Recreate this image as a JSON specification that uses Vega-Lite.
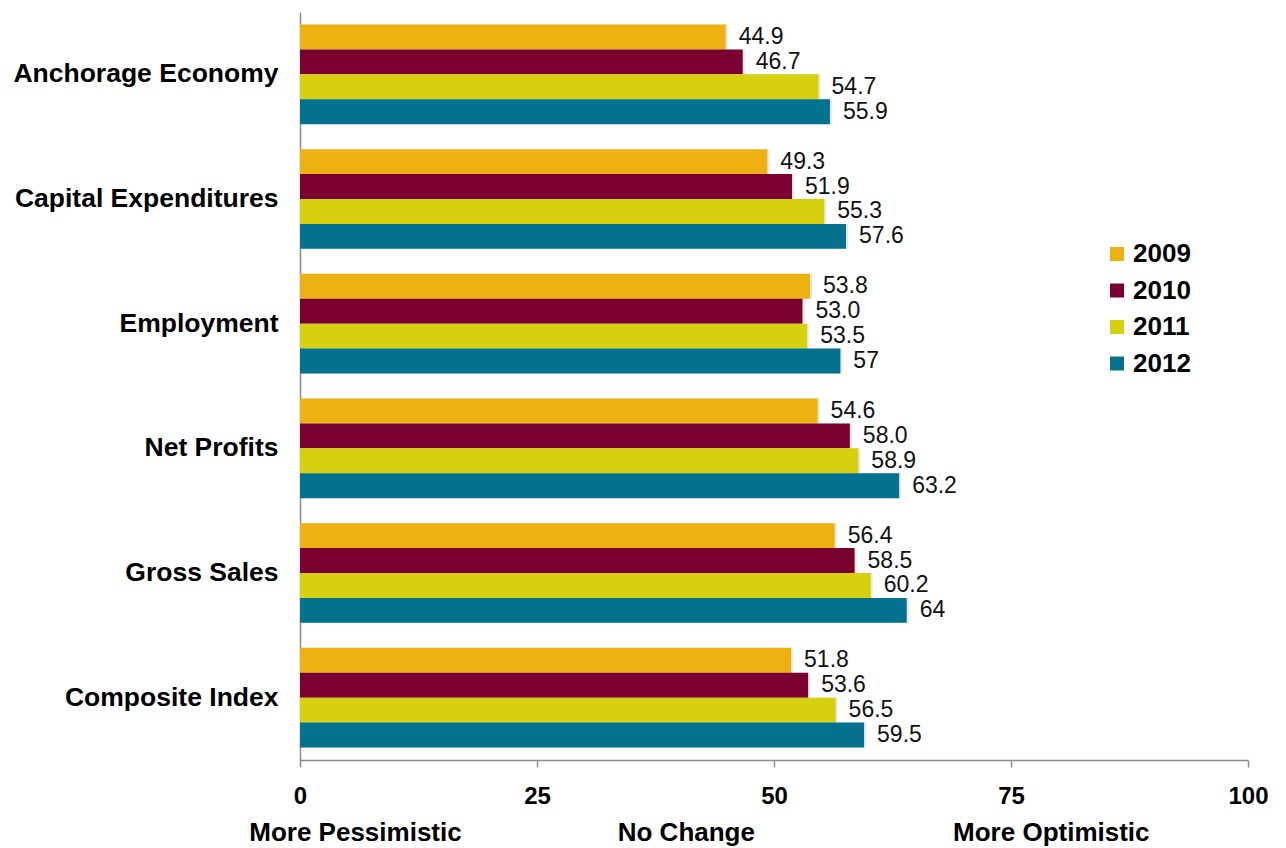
{
  "$schema": "https://vega.github.io/schema/vega-lite/v6.json",
  "width": 948,
  "height": 748,
  "autosize": {"type": "none"},
  "padding": {"left": 300, "top": 12, "right": 38, "bottom": 88},
  "background": "white",
  "config": {
    "view": {"stroke": null},
    "font": "Liberation Sans",
    "axis": {"grid": false, "title": null, "domainColor": "#8c8c8c", "domainWidth": 1.5}
  },
  "data": {
    "values": [
      {"measure": "Anchorage Economy", "year": "2009", "value": 44.9, "label": "44.9"},
      {"measure": "Anchorage Economy", "year": "2010", "value": 46.7, "label": "46.7"},
      {"measure": "Anchorage Economy", "year": "2011", "value": 54.7, "label": "54.7"},
      {"measure": "Anchorage Economy", "year": "2012", "value": 55.9, "label": "55.9"},
      {"measure": "Capital Expenditures", "year": "2009", "value": 49.3, "label": "49.3"},
      {"measure": "Capital Expenditures", "year": "2010", "value": 51.9, "label": "51.9"},
      {"measure": "Capital Expenditures", "year": "2011", "value": 55.3, "label": "55.3"},
      {"measure": "Capital Expenditures", "year": "2012", "value": 57.6, "label": "57.6"},
      {"measure": "Employment", "year": "2009", "value": 53.8, "label": "53.8"},
      {"measure": "Employment", "year": "2010", "value": 53.0, "label": "53.0"},
      {"measure": "Employment", "year": "2011", "value": 53.5, "label": "53.5"},
      {"measure": "Employment", "year": "2012", "value": 57, "label": "57"},
      {"measure": "Net Profits", "year": "2009", "value": 54.6, "label": "54.6"},
      {"measure": "Net Profits", "year": "2010", "value": 58.0, "label": "58.0"},
      {"measure": "Net Profits", "year": "2011", "value": 58.9, "label": "58.9"},
      {"measure": "Net Profits", "year": "2012", "value": 63.2, "label": "63.2"},
      {"measure": "Gross Sales", "year": "2009", "value": 56.4, "label": "56.4"},
      {"measure": "Gross Sales", "year": "2010", "value": 58.5, "label": "58.5"},
      {"measure": "Gross Sales", "year": "2011", "value": 60.2, "label": "60.2"},
      {"measure": "Gross Sales", "year": "2012", "value": 64, "label": "64"},
      {"measure": "Composite Index", "year": "2009", "value": 51.8, "label": "51.8"},
      {"measure": "Composite Index", "year": "2010", "value": 53.6, "label": "53.6"},
      {"measure": "Composite Index", "year": "2011", "value": 56.5, "label": "56.5"},
      {"measure": "Composite Index", "year": "2012", "value": 59.5, "label": "59.5"}
    ]
  },
  "encoding": {
    "y": {
      "field": "measure",
      "type": "nominal",
      "sort": ["Anchorage Economy", "Capital Expenditures", "Employment", "Net Profits", "Gross Sales", "Composite Index"],
      "scale": {"paddingInner": 0.2, "paddingOuter": 0.1},
      "axis": {"ticks": false, "labelFontSize": 26.5, "labelFontWeight": "bold", "labelColor": "#000000", "labelPadding": 22, "labelLimit": 400}
    },
    "yOffset": {"field": "year", "type": "nominal", "sort": ["2009", "2010", "2011", "2012"]}
  },
  "layer": [
    {
      "mark": {"type": "bar", "color": "#000000", "opacity": 0.09, "xOffset": 2, "yOffset": 3},
      "encoding": {
        "x": {"field": "value", "type": "quantitative", "axis": null}
      }
    },
    {
      "mark": {"type": "bar"},
      "encoding": {
        "x": {
          "field": "value",
          "type": "quantitative",
          "scale": {"domain": [0, 100], "nice": false},
          "axis": {"values": [0, 25, 50, 75, 100], "tickColor": "#8c8c8c", "tickSize": 7, "tickWidth": 1.5, "labelFontSize": 24, "labelFontWeight": "bold", "labelColor": "#000000", "labelPadding": 17, "labelFlush": false}
        },
        "color": {
          "field": "year",
          "type": "nominal",
          "scale": {"domain": ["2009", "2010", "2011", "2012"], "range": ["#EDB111", "#7A0030", "#D6D00E", "#04718F"]},
          "legend": {
            "title": null,
            "orient": "none",
            "legendX": 804,
            "legendY": 229,
            "symbolType": "square",
            "symbolSize": 196,
            "symbolStrokeWidth": 0,
            "labelFontSize": 26,
            "labelFontWeight": "bold",
            "labelColor": "#000000",
            "labelOffset": 3,
            "rowPadding": 10.5
          }
        }
      }
    },
    {
      "mark": {"type": "text", "align": "left", "baseline": "middle", "dx": 13, "fontSize": 23, "color": "#111111"},
      "encoding": {
        "x": {"field": "value", "type": "quantitative", "axis": null},
        "text": {"field": "label", "type": "nominal"}
      }
    },
    {
      "data": {"values": [{"pos": 5.8}, {"pos": 40.7}, {"pos": 79.2}]},
      "mark": {"type": "tick", "opacity": 0},
      "encoding": {
        "y": {"value": 0},
        "yOffset": {"value": 0},
        "x": {
          "field": "pos",
          "type": "quantitative",
          "axis": {
            "orient": "bottom",
            "values": [5.8, 40.7, 79.2],
            "labelExpr": "datum.value < 20 ? 'More Pessimistic' : datum.value < 60 ? 'No Change' : 'More Optimistic'",
            "ticks": false,
            "domain": false,
            "labelFontSize": 26,
            "labelFontWeight": "bold",
            "labelColor": "#000000",
            "labelOverlap": false,
            "labelFlush": false,
            "labelBound": false,
            "labelLimit": 500,
            "labelPadding": 59
          }
        }
      }
    }
  ],
  "resolve": {"axis": {"x": "independent"}}
}
